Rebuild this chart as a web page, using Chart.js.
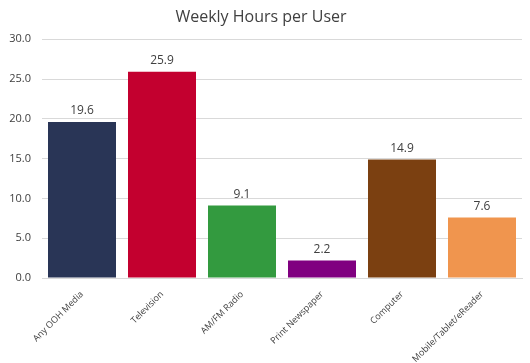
<!DOCTYPE html>
<html>
<head>
<meta charset="utf-8">
<script src="https://cdn.jsdelivr.net/npm/chart.js@4/dist/chart.umd.min.js"></script>
<style>
  body { margin: 0; background: #fff; }
  #wrap { width: 530px; height: 363px; }
</style>
</head>
<body>
<div id="wrap"><canvas id="chart-hours" width="530" height="363"></canvas></div>
<script>
// data
const categories = ['Any OOH Media', 'Television', 'AM/FM Radio', 'Print Newspaper', 'Computer', 'Mobile/Tablet/eReader'];
const hours = [19.6, 25.9, 9.1, 2.2, 14.9, 7.6];
const barColors = ['#293556', '#C3002F', '#339A3F', '#800080', '#7B4011', '#F0954E'];

const TEXT_COLOR = '#404040';
const GRID_COLOR = '#d9d9d9';
const FONT = "'Open Sans', sans-serif";

// draws the value above each bar
const valueLabels = {
  id: 'valueLabels',
  afterDatasetsDraw(chart) {
    const ctx = chart.ctx;
    const meta = chart.getDatasetMeta(0);
    ctx.save();
    ctx.fillStyle = TEXT_COLOR;
    ctx.font = '12px ' + FONT;
    ctx.textAlign = 'center';
    ctx.textBaseline = 'bottom';
    meta.data.forEach((bar, i) => {
      ctx.fillText(hours[i].toFixed(1), bar.x, bar.y - 5);
    });
    ctx.restore();
  },
};

const chartElement = document.getElementById('chart-hours');

new Chart(chartElement, {
  type: 'bar',
  plugins: [valueLabels],
  data: {
    labels: categories,
    datasets: [
      {
        label: 'Weekly Hours per User',
        data: hours,
        backgroundColor: barColors,
        categoryPercentage: 0.85,
        barPercentage: 1,
      },
    ],
  },
  options: {
    responsive: false,
    animation: false,
    layout: { padding: { top: 4, right: 8, left: 0, bottom: 0 } },
    scales: {
      x: {
        afterFit: (scale) => { scale.height = 85; },
        grid: { display: false },
        border: { display: true, color: GRID_COLOR },
        ticks: {
          padding: 3,
          color: TEXT_COLOR,
          font: { family: FONT, size: 9 },
          minRotation: 45,
          maxRotation: 45,
          autoSkip: false,
        },
      },
      y: {
        min: 0,
        max: 30,
        afterFit: (scale) => { scale.width = 42; },
        border: { display: false },
        grid: { color: GRID_COLOR, drawTicks: false },
        ticks: {
          stepSize: 5,
          padding: 11,
          color: TEXT_COLOR,
          font: { family: FONT, size: 11 },
          callback: (value) => value.toFixed(1),
        },
      },
    },
    plugins: {
      legend: { display: false },
      tooltip: { enabled: false },
      title: {
        display: true,
        text: 'Weekly Hours per User',
        color: TEXT_COLOR,
        font: { family: FONT, size: 16, weight: 'normal' },
        padding: { top: 4, bottom: 12 },
      },
    },
  },
});
</script>
</body>
</html>
